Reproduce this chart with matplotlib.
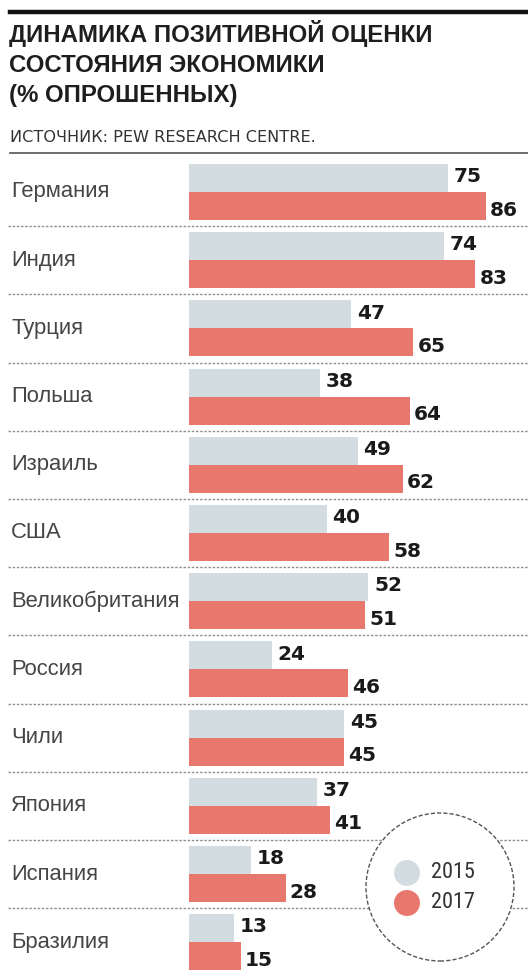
import matplotlib
matplotlib.use("Agg")
import matplotlib.pyplot as plt
from matplotlib.patches import Circle
from matplotlib.lines import Line2D
import numpy as np

countries = ["Германия", "Индия", "Турция", "Польша", "Израиль", "США",
             "Великобритания", "Россия", "Чили", "Япония", "Испания", "Бразилия"]
v2015 = [75, 74, 47, 38, 49, 40, 52, 24, 45, 37, 18, 13]
v2017 = [86, 83, 65, 64, 62, 58, 51, 46, 45, 41, 28, 15]
years = ["2015", "2017"]

title = "ДИНАМИКА ПОЗИТИВНОЙ ОЦЕНКИ\nСОСТОЯНИЯ ЭКОНОМИКИ\n(% ОПРОШЕННЫХ)"
source = "ИСТОЧНИК: PEW RESEARCH CENTRE."

C15 = "#d3dce1"
C17 = "#e8786d"
COND = ["Roboto Condensed", "Fira Sans Condensed", "Liberation Sans"]
SANS = ["Liberation Sans", "DejaVu Sans"]
WIDE = ["DejaVu Sans"]

W, H = 528, 974
fig = plt.figure(figsize=(W / 100, H / 100), dpi=100)
fig.patch.set_facecolor("white")

def fx(px):
    return px / W

def fy(py):
    return 1 - py / H

# header
fig.add_artist(Line2D([fx(10), fx(528)], [fy(11.5), fy(11.5)], color="#111111", lw=3.2))
fig.text(fx(9), fy(20), title, ha="left", va="top", fontsize=17.3, fontweight="bold",
         color="#1e1e1e", family=SANS, linespacing=1.38)
fig.text(fx(10), fy(137), source, ha="left", va="center", fontsize=11.6,
         color="#333333", family=WIDE)
fig.add_artist(Line2D([fx(10), fx(528)], [fy(153), fy(153)], color="#555555", lw=1.2))

# bar axes
x0, ppu = 189, 3.45
pitch = 68.2
row0 = 192
top_px, bot_px = 155, 974
ax = fig.add_axes([fx(x0), fy(bot_px), fx(W - x0), (bot_px - top_px) / H])
ax.set_xlim(0, (W - x0) / ppu)
ax.set_ylim((bot_px - row0) / pitch, (top_px - row0) / pitch)
ax.axis("off")

y = np.arange(len(countries))
bh = 28 / pitch
ax.barh(y - bh / 2, v2015, height=bh, color=C15, align="center")
ax.barh(y + bh / 2, v2017, height=bh, color=C17, align="center")

for i, (a, b) in enumerate(zip(v2015, v2017)):
    ax.annotate(str(a), (a, i - bh / 2), xytext=(4, 1), textcoords="offset points",
                ha="left", va="center", fontsize=14.5, fontweight="bold", color="#1a1a1a",
                family=WIDE, annotation_clip=False)
    ax.annotate(str(b), (b, i + bh / 2), xytext=(3, -3), textcoords="offset points",
                ha="left", va="center", fontsize=14.5, fontweight="bold", color="#1a1a1a",
                family=WIDE, annotation_clip=False)

trans = matplotlib.transforms.blended_transform_factory(fig.transFigure, ax.transData)
for i, c in enumerate(countries):
    ax.text(fx(11), i, c, transform=trans, ha="left", va="center", fontsize=15.8,
            color="#454545", family=SANS, clip_on=False)
    if i < len(countries) - 1:
        ax.add_line(Line2D([fx(8), fx(528)], [i + 0.5, i + 0.5], transform=trans,
                           color="#909090", lw=1.0, linestyle=(0, (1.8, 1.2)), clip_on=False))

# legend circle
inch = fig.dpi_scale_trans
cx, cy, r = 4.40, (H - 887) / 100, 0.74
fig.add_artist(Circle((cx, cy), r, transform=inch, facecolor="white", edgecolor="#555555",
                      lw=1.0, linestyle=(0, (3, 1.5)), zorder=5))
for k, (yr, col) in enumerate(zip(years, [C15, C17])):
    yy = (H - (873 + 30 * k)) / 100
    fig.add_artist(Circle((4.07, yy), 0.13, transform=inch, facecolor=col,
                          edgecolor="none", zorder=6))
    fig.text(4.31 / (W / 100), yy / (H / 100), yr, ha="left", va="center", fontsize=16,
             color="#333333", family=COND, zorder=7)

fig.savefig("out.png", dpi=100, facecolor="white")
